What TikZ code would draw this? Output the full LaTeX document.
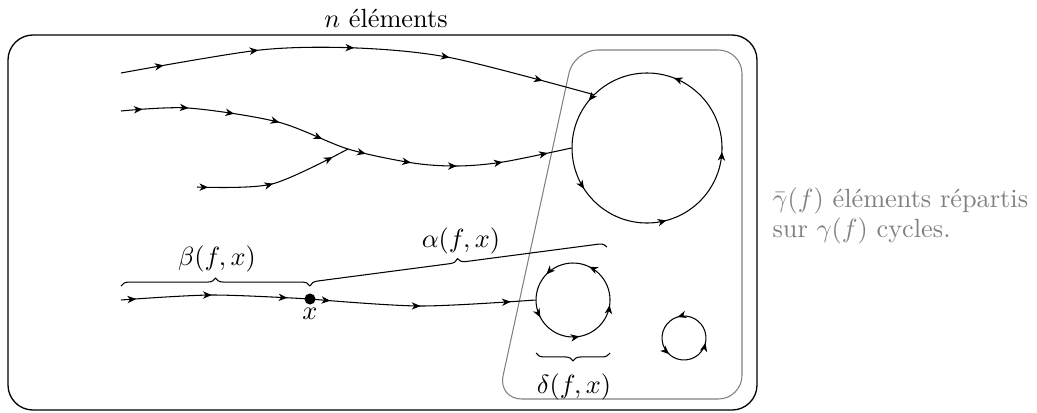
\documentclass[tikz,border=0pt]{standalone}
\usetikzlibrary{arrows.meta,decorations.markings,decorations.pathreplacing}
\begin{document}
\begin{tikzpicture}[x=0.38pt,y=0.38pt,
  >={Stealth[length=3.3pt,width=2.8pt,inset=1pt]},
  flow/.style={postaction={decorate},decoration={markings,mark=between positions #1 with {\arrow{>}}}},
  cyclenode/.style={circle,inner sep=0pt,draw=none},
  bracestyle/.style={decorate,decoration={brace,amplitude=3pt}},
  lbl/.style={inner sep=0pt,anchor=base},
]
\useasboundingbox (0,0) rectangle (1037,412);
% outer box
\draw[line width=0.5pt, rounded corners=9.5pt] (8,2) rectangle (757,377);
\node[lbl] (title) at (386,385) {$n$ éléments};
% inner gray region
\draw[gray, line width=0.4pt, rounded corners=9pt] (574,362) -- (742,362) -- (742,13) -- (498,13) -- cycle;
\node[anchor=west, inner sep=0pt, align=left, text=gray] (note) at (772,196) {$\bar\gamma(f)$ éléments répartis\\[-0.8pt] sur $\gamma(f)$ cycles.};
% cycles
\node[cyclenode, minimum size=57pt] (C1) at (647,264) {};
\node[cyclenode, minimum size=28.12pt] (C2) at (573,112) {};
\node[cyclenode, minimum size=16.72pt] (C3) at (684,74) {};
\draw[flow=0.1 and 0.95 step 0.2] ([shift={(-39:75)}]C1.center) arc[start angle=-39, delta angle=360, radius=75];
\draw[flow=0.1 and 0.95 step 0.2] ([shift={(-44:37)}]C2.center) arc[start angle=-44, delta angle=360, radius=37];
\draw[flow=0.1667 and 0.9 step 0.3333] ([shift={(-73:22)}]C3.center) arc[start angle=-73, delta angle=360, radius=22];
% paths
\coordinate (s1) at (121,339);
\coordinate (s2) at (121,301);
\coordinate (j) at (348,263);
\coordinate (s3) at (197,225);
\coordinate (s4) at (121,112);
\node[circle, fill, inner sep=0pt, minimum size=4.2pt] (x) at (310,113) {};
\draw[flow=0.09 and 0.95 step 0.2] plot[smooth] coordinates {(s1) (260,362) (357,364) (452,354) (C1.135)};
\draw[flow=0.047 and 0.96 step 0.1] plot[smooth] coordinates {(s2) (188,304) (278,290) (j) (413,249) (458,246) (503,250) (C1.west)};
\draw[flow=0.07 and 0.95 step 0.41] plot[smooth] coordinates {(s3) (272,228) (j)};
\draw[flow=0.08 and 0.95 step 0.4] plot[smooth] coordinates {(s4) (212,117) (x)};
\draw[flow=0.09 and 0.95 step 0.4] plot[smooth] coordinates {(x) (420,106) (C2.west)};
\node[lbl] (xl) at (310,93) {$x$};
% braces
\coordinate (b0) at (121,126);
\coordinate (b1) at (310,126);
\coordinate (a1) at (607,165);
\coordinate (d0) at (610,59);
\coordinate (d1) at (536,59);
\draw[bracestyle] (b0) -- (b1);
\draw[bracestyle] (b1) -- (a1);
\draw[bracestyle] (d0) -- (d1);
\node[lbl] (beta) at (217,147) {$\beta(f,x)$};
\node[lbl] (alpha) at (461,165) {$\alpha(f,x)$};
\node[lbl] (delta) at (574,19) {$\delta(f,x)$};
\end{tikzpicture}
\end{document}
